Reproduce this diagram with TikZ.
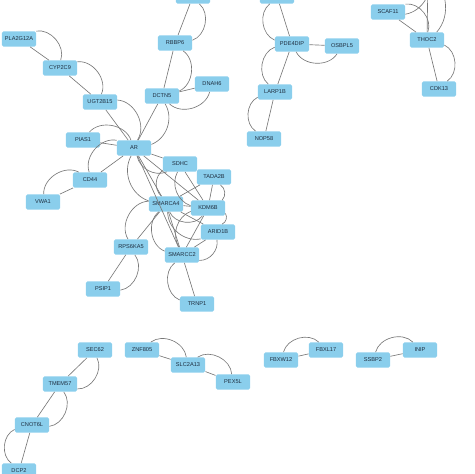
\documentclass[tikz,border=0pt]{standalone}
\usepackage{fontspec}
\setmainfont{Liberation Sans}
\definecolor{genefill}{RGB}{138,206,236}
\definecolor{genetext}{RGB}{30,45,62}
\definecolor{linkgray}{RGB}{120,120,120}

\begin{document}
\begin{tikzpicture}[x=0.03cm,y=-0.03cm,
  gene/.style={fill=genefill,rounded corners=1.5pt,minimum width=1.03cm,minimum height=0.46cm,inner sep=0pt,text=genetext,font=\fontsize{4.8}{5}\selectfont},
  link/.style={draw=linkgray,line width=0.55pt}]
\useasboundingbox (0,0) rectangle (474,474);
\clip (0,0) rectangle (474,474);
\foreach \n/\x/\y/\t in {PLA/19/39/PLA2G12A,CYP/60/68/CYP2C9,UGT/100/102/UGT2B15,PIAS/83/140/PIAS1,
  AR/134/148/AR,CD44/90/180/CD44,VWA/43/202/VWA1,DCTN/162/96/DCTN5,RBBP/175/43/RBBP6,
  DNAH/212/84/DNAH6,topA/193/-4/{},PDE/292/44/PDE4DIP,topB/277/-4/{},OSB/342/46/OSBPL5,
  LARP/275/92/LARP1B,NOP/264/139/NOP58,SCAF/388/12/SCAF11,THOC/427/40/THOC2,CDK/439/89/CDK13,
  SDHC/180/164/SDHC,TADA/214/177/TADA2B,SMA4/166/204/SMARCA4,KDM/208/208/KDM6B,
  ARID/218/232/ARID1B,RPS/131/247/RPS6KA5,SMC2/182/255/SMARCC2,PSIP/103/289/PSIP1,
  TRNP/197/304/TRNP1,SEC/95/350/SEC62,TMEM/60/384/TMEM57,CNOT/32/425/CNOT6L,DCP/19/471/DCP2,
  ZNF/142/350/ZNF805,SLC/188/365/SLC2A13,PEX/233/382/PEX5L,FBXW/281/360/FBXW12,
  FBXL/326/350/FBXL17,SSBP/373/360/SSBP2,INIP/420/350/INIP}
  \node[gene] (\n) at (\x,\y) {\t};
\coordinate (topC) at (428,-25);
\foreach \a/\b in {PLA/CYP,CYP/UGT,UGT/AR,PIAS/AR,CD44/AR,VWA/CD44,DCTN/AR,RBBP/DCTN,DCTN/DNAH,
  RBBP/topA,PDE/topB,PDE/OSB,PDE/LARP,LARP/NOP,SCAF/THOC,THOC/topC,THOC/CDK,SEC/TMEM,TMEM/CNOT,
  CNOT/DCP,ZNF/SLC,SLC/PEX,FBXW/FBXL,SSBP/INIP,AR/SDHC,AR/SMA4,AR/KDM,AR/SMC2,SMA4/RPS,RPS/PSIP,
  SMC2/TRNP,SMA4/SMC2,SMA4/ARID,SMA4/KDM,SMA4/TADA,SDHC/KDM,TADA/KDM,SMC2/KDM,SMC2/ARID}
  \draw[link] (\a) -- (\b);
\foreach \a/\b/\s in {PLA/CYP/60,CYP/UGT/60,UGT/AR/60,PIAS/AR/60,CD44/AR/60,VWA/CD44/60,DCTN/AR/50,
  RBBP/DCTN/60,DCTN/DNAH/-60,RBBP/topA/-60,PDE/topB/60,PDE/OSB/-60,PDE/LARP/-60,LARP/NOP/-60,
  SCAF/THOC/60,THOC/CDK/60,SCAF/topC/-50,THOC/topC/-50,SEC/TMEM/60,TMEM/CNOT/60,CNOT/DCP/-60,
  ZNF/SLC/60,SLC/PEX/60,FBXW/FBXL/60,SSBP/INIP/60,AR/SDHC/-50,AR/SMA4/-50,SMA4/RPS/-60,
  RPS/PSIP/60,SMC2/TRNP/-60,SMA4/SMC2/-60,SMA4/ARID/-50,SMA4/KDM/-60,SMC2/KDM/50,SMC2/ARID/-50,
  KDM/ARID/50,SDHC/KDM/-50,TADA/KDM/50,SDHC/SMA4/-50}
  \draw[link] (\a) to[bend left=\s] (\b);
\end{tikzpicture}
\end{document}
